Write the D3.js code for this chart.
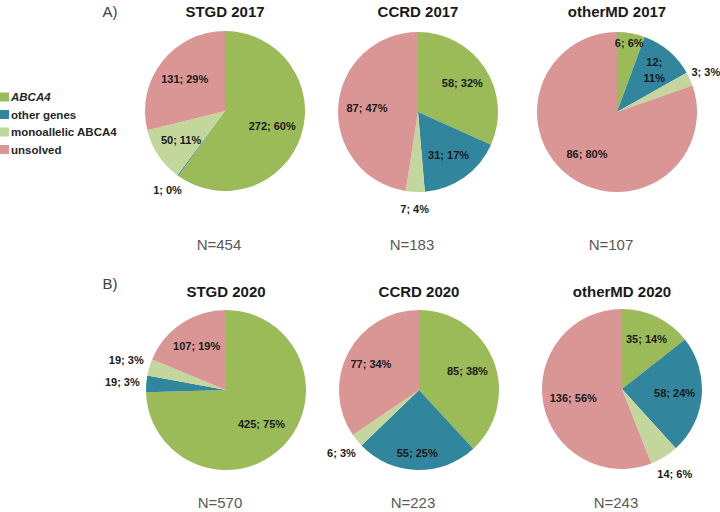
<!DOCTYPE html>
<html>
<head>
<meta charset="utf-8">
<script src="https://cdn.jsdelivr.net/npm/d3@7"></script>
<style>
  html, body { margin: 0; padding: 0; background: #fff; }
  svg { display: block; }
</style>
</head>
<body>
<svg id="chart" width="720" height="512"></svg>
<script>
// ---------------- DATA ----------------
const categories = ["ABCA4", "other genes", "monoallelic ABCA4", "unsolved"];
const chartTitles = ["STGD 2017", "CCRD 2017", "otherMD 2017", "STGD 2020", "CCRD 2020", "otherMD 2020"];
const totals = [454, 183, 107, 570, 223, 243];

const stgd2017 = [272, 1, 50, 131];
const ccrd2017 = [58, 31, 7, 87];
const otherMD2017 = [6, 12, 3, 86];
const stgd2020 = [425, 19, 19, 107];
const ccrd2020 = [85, 55, 6, 77];
const otherMD2020 = [35, 58, 14, 136];

const stgd2017Pct = [60, 0, 11, 29];
const ccrd2017Pct = [32, 17, 4, 47];
const otherMD2017Pct = [6, 11, 3, 80];
const stgd2020Pct = [75, 3, 3, 19];
const ccrd2020Pct = [38, 25, 3, 34];
const otherMD2020Pct = [14, 24, 6, 56];

const panelLabels = ["A)", "B)"];

// ---------------- LAYOUT / STYLE ----------------
const seriesValues = [stgd2017, ccrd2017, otherMD2017, stgd2020, ccrd2020, otherMD2020];
const seriesPct = [stgd2017Pct, ccrd2017Pct, otherMD2017Pct, stgd2020Pct, ccrd2020Pct, otherMD2020Pct];

const colors = d3.scaleOrdinal().domain(categories)
  .range(["#9BBB59", "#31859C", "#C3D69B", "#D99694"]);

const R = 80;
const centers = [[225, 111], [418, 112], [617, 112], [226, 390], [419, 390], [622, 389]];
const titleY = [17, 17, 17, 297, 297, 297];
const nY = [250, 250, 250, 508, 508, 508];

// label placement: "o" = outside, number = inside radius factor
const labelPlace = [
  [0.62, "o", 0.66, 0.64],
  [0.66, 0.66, "o", 0.64],
  [0.87, 0.72, "o", 0.65],
  [0.62, "o", "o", 0.66],
  [0.65, 0.79, "o", 0.68],
  [0.70, 0.66, "o", 0.62]
];
const wrapLabel = [[], [], [1], [], [], []];
const outsideFactor = [1.22, 1.22, 1.22, 1.30, 1.25, 1.25];

const svg = d3.select("#chart");

const pie = d3.pie().sort(null).value(d => d.value);
const arc = d3.arc().innerRadius(0).outerRadius(R);

seriesValues.forEach((vals, ci) => {
  const [cx, cy] = centers[ci];
  const data = vals.map((v, i) => ({ cat: categories[i], value: v, pct: seriesPct[ci][i], idx: i }));
  const g = svg.append("g").attr("transform", `translate(${cx},${cy})`);
  const arcs = pie(data);

  g.selectAll("path").data(arcs).join("path")
    .attr("d", arc)
    .attr("fill", d => colors(d.data.cat));

  arcs.forEach(a => {
    const place = labelPlace[ci][a.data.idx];
    const mid = (a.startAngle + a.endAngle) / 2;
    const r = place === "o" ? R * outsideFactor[ci] : R * place;
    const x = Math.sin(mid) * r;
    const y = -Math.cos(mid) * r;
    const txt = `${a.data.value}; ${a.data.pct}%`;
    const t = g.append("text")
      .attr("x", x).attr("y", y)
      .attr("text-anchor", "middle")
      .attr("font-family", "'Liberation Sans', Arial, sans-serif")
      .attr("font-size", 11)
      .attr("font-weight", "bold")
      .attr("fill", "#1a1a1a");
    if (wrapLabel[ci].includes(a.data.idx)) {
      t.append("tspan").attr("x", x).attr("dy", "-0.2em").text(`${a.data.value};`);
      t.append("tspan").attr("x", x).attr("dy", "1.45em").text(`${a.data.pct}%`);
    } else {
      t.attr("dy", "0.35em").text(txt);
    }
  });

  svg.append("text")
    .attr("x", cx).attr("y", titleY[ci])
    .attr("text-anchor", "middle")
    .attr("font-family", "'Liberation Sans', Arial, sans-serif")
    .attr("font-size", 15)
    .attr("font-weight", "bold")
    .attr("fill", "#1a1a1a")
    .text(chartTitles[ci]);

  svg.append("text")
    .attr("x", cx - 6).attr("y", nY[ci])
    .attr("text-anchor", "middle")
    .attr("font-family", "'Liberation Sans', Arial, sans-serif")
    .attr("font-size", 15)
    .attr("fill", "#595959")
    .text(`N=${totals[ci]}`);
});

// panel labels
[[110, 17], [110, 289]].forEach((p, i) => {
  svg.append("text")
    .attr("x", p[0]).attr("y", p[1])
    .attr("text-anchor", "middle")
    .attr("font-family", "'Liberation Sans', Arial, sans-serif")
    .attr("font-size", 15)
    .attr("fill", "#404040")
    .text(panelLabels[i]);
});

// legend
const legend = svg.append("g").attr("transform", "translate(0,97)");
const legendY = d3.scalePoint().domain(categories).range([0, 52.5]);
categories.forEach(c => {
  const y = legendY(c);
  legend.append("rect")
    .attr("x", 0).attr("y", y - 4.5)
    .attr("width", 9).attr("height", 9)
    .attr("fill", colors(c));
  legend.append("text")
    .attr("x", 11).attr("y", y)
    .attr("dy", "0.35em")
    .attr("font-family", "'Liberation Sans', Arial, sans-serif")
    .attr("font-size", 11.5)
    .attr("font-weight", "bold")
    .attr("font-style", c === "ABCA4" ? "italic" : "normal")
    .attr("fill", "#262626")
    .text(c);
});
</script>
</body>
</html>
